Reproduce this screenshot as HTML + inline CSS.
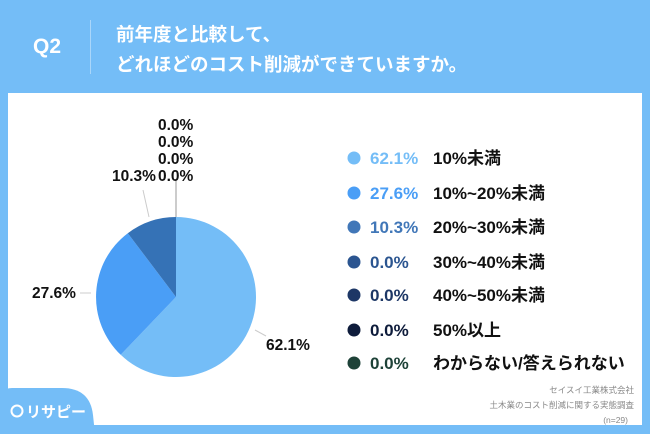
<!DOCTYPE html>
<html><head><meta charset="utf-8"><style>
body{margin:0;width:650px;height:434px;background:#74bdf7;position:relative;overflow:hidden;font-family:"Liberation Sans","Noto Sans CJK JP",sans-serif}
.panel{position:absolute;left:8px;top:93px;width:634px;height:332px;background:#fff}
.t{position:absolute;white-space:nowrap}
</style></head><body>
<div class="t" style="left:33px;top:35px;color:#fff;font-weight:bold;font-size:21px">Q2</div>
<div style="position:absolute;left:90px;top:20px;width:1px;height:54px;background:#a9d6fa"></div>
<div class="t" style="left:116px;top:20px;color:#fff;font-weight:bold;font-size:18.5px;line-height:30px">前年度と比較して、<br>どれほどのコスト削減ができていますか。</div>
<div class="panel"></div>
<svg style="position:absolute;left:0;top:0" width="650" height="434">
<g font-family="Liberation Sans, Noto Sans CJK JP, sans-serif" font-weight="bold">
<path d="M176,297 L176,217 A80,80 0 1 1 120.7,354.8 Z" fill="#74bdf7"/>
<path d="M176,297 L120.7,354.8 A80,80 0 0 1 127.8,233.2 Z" fill="#4a9ef6"/>
<path d="M176,297 L127.8,233.2 A80,80 0 0 1 176,217 Z" fill="#3572b6"/>
<line x1="176" y1="217" x2="176" y2="180" stroke="#999" stroke-width="1"/>
<line x1="149" y1="217" x2="143" y2="190" stroke="#ccc" stroke-width="1"/>
<line x1="91" y1="293" x2="80" y2="293" stroke="#ccc" stroke-width="1"/>
<line x1="255" y1="330" x2="266" y2="336" stroke="#ccc" stroke-width="1"/>
<g font-size="15.5" fill="#111">
<text x="158" y="130">0.0%</text><text x="158" y="147">0.0%</text><text x="158" y="164">0.0%</text><text x="158" y="181">0.0%</text>
<text x="112" y="181">10.3%</text>
<text x="32" y="298">27.6%</text>
<text x="266" y="350">62.1%</text>
</g>
<g font-size="17">
<circle cx="354" cy="158" r="6.5" fill="#74bdf7"/><text x="370" y="164" fill="#74bdf7">62.1%</text><text x="433" y="164" fill="#111">10%未満</text>
<circle cx="354" cy="193" r="6.5" fill="#4a9ef6"/><text x="370" y="199" fill="#4a9ef6">27.6%</text><text x="433" y="199" fill="#111">10%~20%未満</text>
<circle cx="354" cy="227" r="6.5" fill="#4177b8"/><text x="370" y="233" fill="#4177b8">10.3%</text><text x="433" y="233" fill="#111">20%~30%未満</text>
<circle cx="354" cy="262" r="6.5" fill="#2b5590"/><text x="370" y="268" fill="#2b5590">0.0%</text><text x="433" y="268" fill="#111">30%~40%未満</text>
<circle cx="354" cy="295" r="6.5" fill="#1d3766"/><text x="370" y="301" fill="#1d3766">0.0%</text><text x="433" y="301" fill="#111">40%~50%未満</text>
<circle cx="354" cy="330" r="6.5" fill="#0e1c3b"/><text x="370" y="336" fill="#0e1c3b">0.0%</text><text x="433" y="336" fill="#111">50%以上</text>
<circle cx="354" cy="363" r="6.5" fill="#1e4238"/><text x="370" y="369" fill="#1e4238">0.0%</text><text x="433" y="369" fill="#111">わからない/答えられない</text>
</g>
</g>
<g font-family="Liberation Sans, Noto Sans CJK JP, sans-serif" font-size="8.5" fill="#888" text-anchor="end">
<text x="634" y="393">セイスイ工業株式会社</text>
<text x="634" y="408">土木業のコスト削減に関する実態調査</text>
<text x="628" y="423">(n=29)</text>
</g>
<path d="M0,400 Q0,388 12,388 L62,388 Q90,388 93,415 L95,434 L0,434 Z" fill="#74bdf7"/>
<circle cx="17" cy="411" r="5.5" fill="none" stroke="#fff" stroke-width="2"/>
<text x="26" y="417" font-family="Liberation Sans, Noto Sans CJK JP, sans-serif" font-size="15" font-weight="bold" fill="#fff">リサピー</text>
</svg>
</body></html>
